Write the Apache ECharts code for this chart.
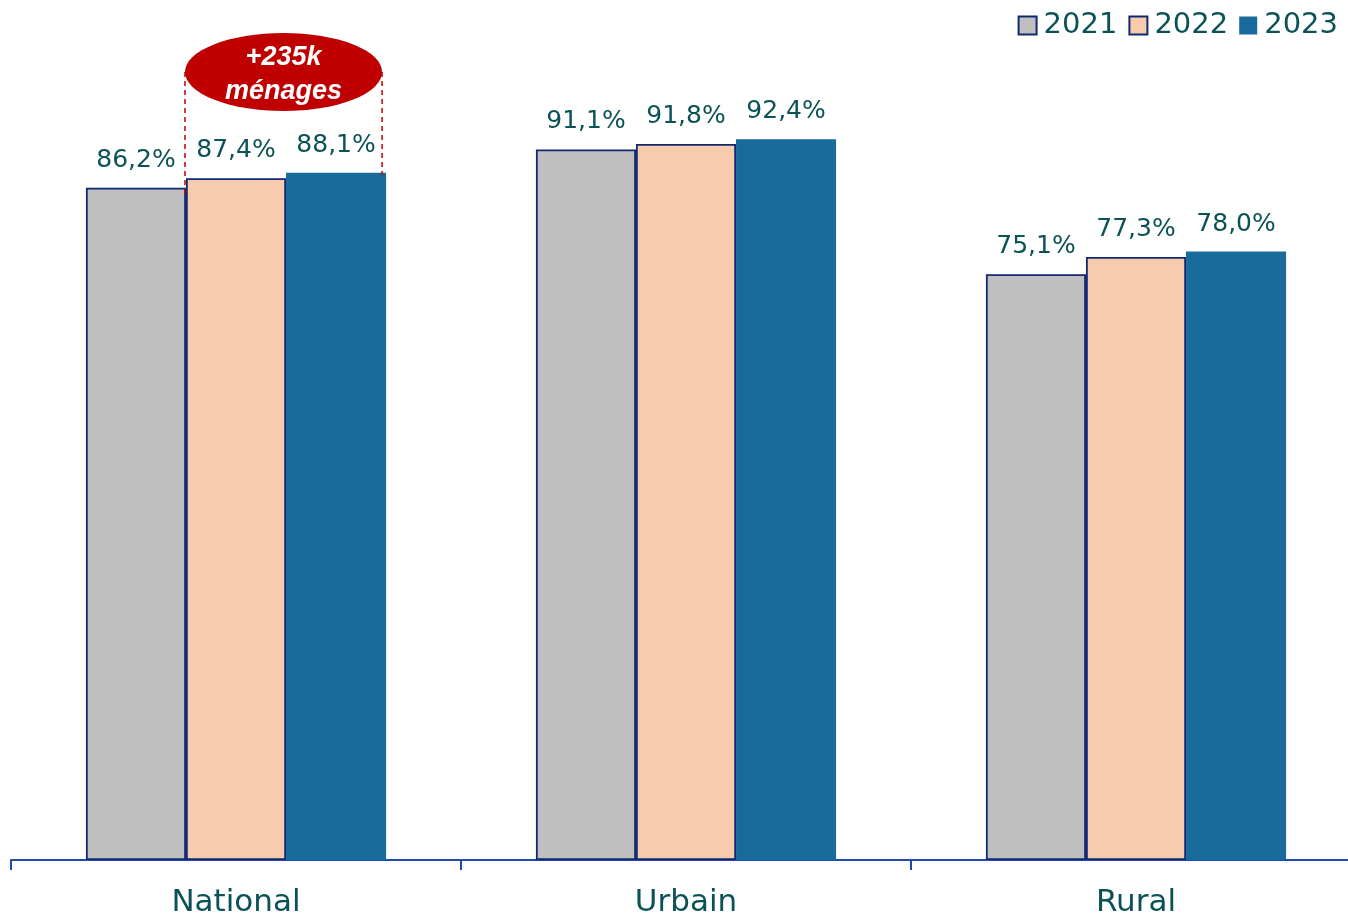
<!DOCTYPE html>
<html>
<head>
<meta charset="utf-8">
<script src="https://cdn.jsdelivr.net/npm/echarts@6/dist/echarts.min.js"></script>
<style>
  html, body { margin: 0; padding: 0; background: #fff; }
  #chart { width: 1348px; height: 916px; }
</style>
</head>
<body>
<div id="chart"></div>
<script>
// Data
const categories = ['National', 'Urbain', 'Rural'];
const years = ['2021', '2022', '2023'];
const values2021 = [86.2, 91.1, 75.1];
const values2022 = [87.4, 91.8, 77.3];
const values2023 = [88.1, 92.4, 78.0];
const annotationLines = ['+235k', 'ménages'];

const FONT = '"DejaVu Sans", "Open Sans", sans-serif';
const TEAL = '#0B5257';
const NAVY = '#102A72';
const AXIS = '#2149B0';
const RED = '#C00000';

function pct(p) {
    return p.value.toFixed(1).replace('.', ',') + '%';
}

function makeSeries(name, data, color, border) {
    return {
        name: name,
        type: 'bar',
        data: data,
        barGap: 0,
        barCategoryGap: '33.3%',
        itemStyle: {
            color: color,
            borderColor: border ? NAVY : color,
            borderWidth: border ? 1.8 : 0
        },
        label: {
            show: true,
            position: 'top',
            distance: 15,
            formatter: pct,
            color: TEAL,
            fontFamily: FONT,
            fontSize: 25
        }
    };
}

const chartDom = document.getElementById('chart');
const chart = echarts.init(chartDom);

chart.setOption({
    animation: false,
    legend: {
        data: years,
        top: 6,
        right: 5,
        itemWidth: 18,
        itemHeight: 18,
        itemGap: 11,
        icon: 'rect',
        textStyle: { color: TEAL, fontFamily: FONT, fontSize: 29, padding: [0, 0, 0, 2] }
    },
    // axis line runs past the right edge, as in the original
    grid: { left: 11, right: -13, top: 80, bottom: 56, containLabel: false, outerBoundsMode: 'none' },
    xAxis: {
        type: 'category',
        data: categories,
        axisLine: { lineStyle: { color: AXIS, width: 2 } },
        axisTick: { show: true, length: 10, lineStyle: { color: AXIS, width: 2 } },
        axisLabel: { color: TEAL, fontFamily: FONT, fontSize: 31, margin: 27 }
    },
    yAxis: { type: 'value', min: 0, max: 100, show: false },
    series: [
        makeSeries(years[0], values2021, '#BFBFBF', true),
        makeSeries(years[1], values2022, '#F8CBAD', true),
        makeSeries(years[2], values2023, '#196B9C', false)
    ]
});

// Annotation placed from the bar layout computed by the chart
function barTop(seriesIndex, dataIndex) {
    const l = chart.getModel().getSeriesByIndex(seriesIndex).getData().getItemLayout(dataIndex);
    return { left: l.x, right: l.x + l.width, top: Math.min(l.y, l.y + l.height) };
}
const bar21 = barTop(0, 0);
const bar22 = barTop(1, 0);
const bar23 = barTop(2, 0);
const xLeft = bar22.left - 1;
const xRight = bar23.right - 4;
const cx = (xLeft + xRight) / 2;
const rx = (xRight - xLeft) / 2;
const ry = 39;
const cy = 72;

chart.setOption({
    graphic: [
        {
            type: 'line', z: 10,
            shape: { x1: xLeft, y1: cy, x2: xLeft, y2: bar21.top + 6 },
            style: { stroke: RED, lineWidth: 1.5, lineDash: [5, 4] }
        },
        {
            type: 'line', z: 10,
            shape: { x1: xRight, y1: cy, x2: xRight, y2: bar23.top + 2 },
            style: { stroke: RED, lineWidth: 1.5, lineDash: [5, 4] }
        },
        {
            type: 'circle', z: 11,
            x: cx, y: cy, scaleX: rx / ry,
            shape: { cx: 0, cy: 0, r: ry },
            style: { fill: RED }
        },
        {
            type: 'text', z: 12,
            x: cx, y: cy + 3,
            style: {
                text: annotationLines.join('\n'),
                fill: '#fff',
                font: 'italic bold 27px "Liberation Sans", Arial, sans-serif',
                lineHeight: 34,
                align: 'center',
                verticalAlign: 'middle'
            }
        }
    ]
});
</script>
</body>
</html>
